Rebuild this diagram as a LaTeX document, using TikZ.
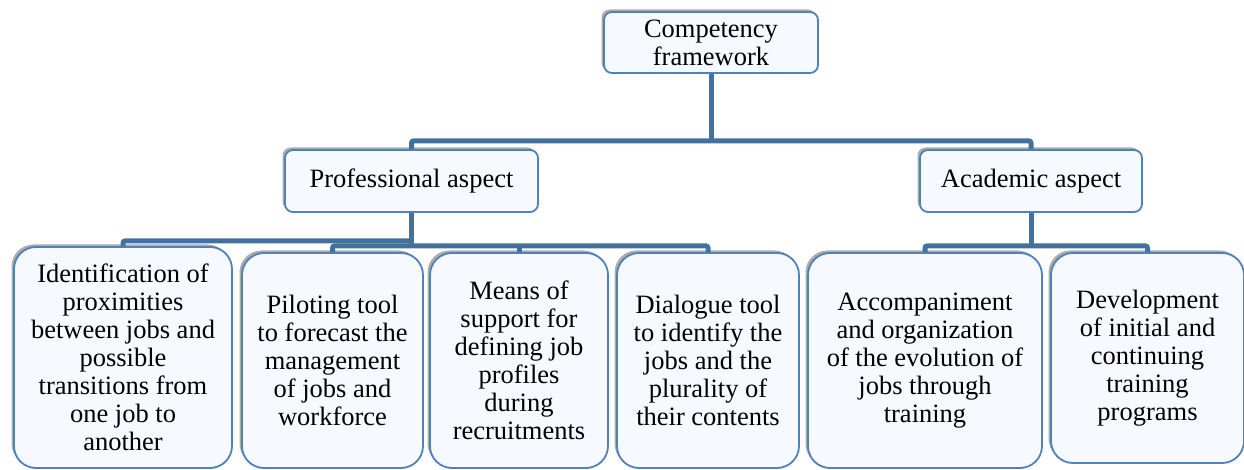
\documentclass[tikz,border=0pt]{standalone}
\usepackage{fontspec}
\setmainfont{Liberation Serif}
\usetikzlibrary{shadows}
\definecolor{conncol}{HTML}{41719C}
\definecolor{boxline}{HTML}{4F81BD}
\definecolor{boxfill}{HTML}{F6F9FD}
\tikzset{
  box/.style={draw=boxline, line width=1.8pt, fill=boxfill, align=center,
    inner sep=0pt, font=\rmfamily\fontsize{26.5}{28}\selectfont,
    drop shadow={shadow xshift=-2.5pt, shadow yshift=2.5pt, opacity=0.5, fill=black!65}},
  topbox/.style={box, rounded corners=8pt},
  leafbox/.style={box, rounded corners=22pt},
  conn/.style={draw=conncol, line width=5pt, rounded corners=2pt}
}
\begin{document}
\begin{tikzpicture}[x=1pt, y=-1pt]
\useasboundingbox (0,0) rectangle (1244,470);
% top level
\node[topbox, minimum width=214pt, minimum height=61pt] (comp) at (711,42.5) {Competency\\framework};
\node[topbox, minimum width=253pt, minimum height=62pt] (prof) at (411.5,181) {Professional aspect};
\node[topbox, minimum width=222pt, minimum height=62pt] (acad) at (1031,181) {Academic aspect};
% leaves
\node[leafbox, minimum width=218pt, minimum height=221pt] (c1) at (123,357.5) {Identification of\\proximities\\between jobs and\\possible\\transitions from\\one job to\\another};
\node[leafbox, minimum width=181pt, minimum height=215pt] (c2) at (332.5,360.5) {Piloting tool\\to forecast the\\management\\of jobs and\\workforce};
\node[leafbox, minimum width=178pt, minimum height=215pt] (c3) at (519,360.5) {Means of\\support for\\defining job\\profiles\\during\\recruitments};
\node[leafbox, minimum width=182pt, minimum height=215pt] (c4) at (708,360.5) {Dialogue tool\\to identify the\\jobs and the\\plurality of\\their contents};
\node[leafbox, minimum width=234pt, minimum height=215pt] (c5) at (925,360.5) {Accompaniment\\and organization\\of the evolution of\\jobs through\\training};
\node[leafbox, minimum width=193pt, minimum height=210pt] (c6) at (1147.5,358) {Development\\of initial and\\continuing\\training\\programs};
% bus coordinates
\coordinate (b0) at (711,141);
\coordinate (b1) at (411.5,241);
\coordinate (b2) at (411.5,246);
\coordinate (b3) at (1031,246);
% connectors
\draw[conn] (comp.south) -- (b0);
\draw[conn] (prof.north) |- (b0) -| (acad.north);
\draw[conn] (prof.south) -- (b2);
\draw[conn] (c1.north) |- (b1);
\draw[conn] (c2.north) |- (b2) -| (c4.north);
\draw[conn] (c3.north) -- (c3.north |- b2);
\draw[conn] (acad.south) -- (b3);
\draw[conn] (c5.north) |- (b3) -| (c6.north);
\end{tikzpicture}
\end{document}
